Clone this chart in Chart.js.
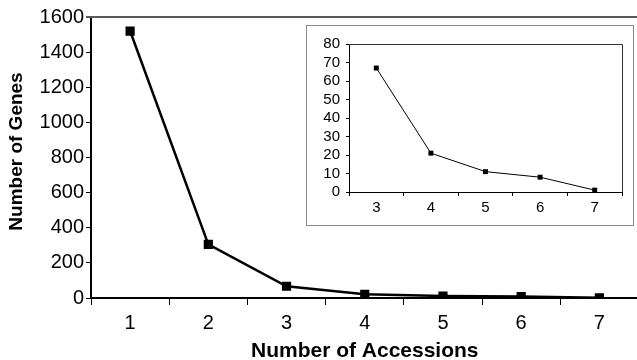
<!DOCTYPE html>
<html>
<head>
<meta charset="utf-8">
<script src="https://cdn.jsdelivr.net/npm/chart.js@4.4.0/dist/chart.umd.min.js"></script>
<style>
    html, body { margin: 0; padding: 0; background: #fff; overflow: hidden; }
    #wrap { position: relative; width: 637px; height: 360px; overflow: hidden; }
    #mainChart { position: absolute; left: 0; top: 0; }
    #insetBox { position: absolute; left: 306px; top: 25px; width: 326px; height: 199px; border: 1px solid #8a8a8a; background: #fff; }
    #insetChart { position: absolute; left: 0; top: 0; }
</style>
</head>
<body>
<div id="wrap">
    <canvas id="mainChart" width="645" height="364"></canvas>
    <div id="insetBox"><canvas id="insetChart" width="326" height="199"></canvas></div>
</div>
<script>
// data
let accessions = ['1', '2', '3', '4', '5', '6', '7'];
let geneCounts = [1520, 305, 67, 21, 11, 8, 1];
let insetAccessions = ['3', '4', '5', '6', '7'];
let insetCounts = [67, 21, 11, 8, 1];

Chart.defaults.font.family = 'Arial, "Liberation Sans", sans-serif';
Chart.defaults.color = '#000';

// line across the top of the main plot area + y axis title
const mainExtras = {
    id: 'mainExtras',
    afterDraw(chart) {
        const a = chart.chartArea;
        const ctx = chart.ctx;
        ctx.save();
        ctx.strokeStyle = '#5a5a5a';
        ctx.lineWidth = 2;
        ctx.beginPath();
        ctx.moveTo(a.left - 5, a.top);
        ctx.lineTo(a.right, a.top);
        ctx.stroke();

        // y title, a bit above the middle like the original
        ctx.translate(17, a.top + (a.bottom - a.top) / 2 - 6);
        ctx.rotate(-Math.PI / 2);
        ctx.fillStyle = '#000';
        ctx.font = 'bold 19px Arial, "Liberation Sans", sans-serif';
        ctx.textAlign = 'center';
        ctx.textBaseline = 'middle';
        ctx.fillText('Number of Genes', 0, 0);
        ctx.restore();
    }
};

// top and right frame for the inset plot
const insetFrame = {
    id: 'insetFrame',
    afterDraw(chart) {
        const a = chart.chartArea;
        const ctx = chart.ctx;
        ctx.save();
        ctx.strokeStyle = '#333';
        ctx.lineWidth = 1;
        ctx.beginPath();
        ctx.moveTo(a.left, a.top + 0.5);
        ctx.lineTo(a.right + 0.5, a.top + 0.5);
        ctx.lineTo(a.right + 0.5, a.bottom);
        ctx.stroke();
        ctx.restore();
    }
};

new Chart(document.getElementById('mainChart').getContext('2d'), {
    type: 'line',
    data: {
        labels: accessions,
        datasets: [{
            data: geneCounts,
            borderColor: '#000',
            backgroundColor: '#000',
            borderWidth: 2.5,
            pointStyle: 'rect',
            pointRadius: 6.5,
            pointBorderWidth: 0,
            tension: 0
        }]
    },
    options: {
        responsive: false,
        animation: false,
        layout: { padding: { top: 17, right: 4, left: 0, bottom: 0 } },
        plugins: { legend: { display: false }, tooltip: { enabled: false } },
        scales: {
            x: {
                offset: true,
                grid: { display: true, drawOnChartArea: false, offset: true, tickLength: 7, color: '#000', lineWidth: 1 },
                border: { color: '#000', width: 2 },
                ticks: { font: { size: 20 }, padding: 6, maxRotation: 0 },
                title: { display: true, text: 'Number of Accessions', font: { size: 21, weight: 'bold' }, padding: { top: 0, bottom: 0 } },
                afterFit: function(scale) { scale.height = 66; }
            },
            y: {
                min: 0,
                max: 1600,
                ticks: { stepSize: 200, autoSkip: false, font: { size: 20 }, padding: 2, callback: v => String(v) },
                grid: { display: true, drawOnChartArea: false, tickLength: 5, color: '#000', lineWidth: 1 },
                border: { color: '#000', width: 2 },
                afterFit: function(scale) { scale.width = 91; }
            }
        }
    },
    plugins: [mainExtras]
});

new Chart(document.getElementById('insetChart').getContext('2d'), {
    type: 'line',
    data: {
        labels: insetAccessions,
        datasets: [{
            data: insetCounts,
            borderColor: '#000',
            backgroundColor: '#000',
            borderWidth: 1,
            pointStyle: 'rect',
            pointRadius: 3.5,
            pointBorderWidth: 0,
            tension: 0
        }]
    },
    options: {
        responsive: false,
        animation: false,
        layout: { padding: { top: 18, right: 11, left: 0, bottom: 0 } },
        plugins: { legend: { display: false }, tooltip: { enabled: false } },
        scales: {
            x: {
                offset: true,
                grid: { display: true, drawOnChartArea: false, offset: true, tickLength: 4, color: '#000', lineWidth: 1 },
                border: { color: '#000', width: 1 },
                ticks: { font: { size: 15 }, padding: 3, maxRotation: 0 },
                afterFit: function(scale) { scale.height = 33; }
            },
            y: {
                min: 0,
                max: 80,
                ticks: { stepSize: 10, autoSkip: false, font: { size: 15 }, padding: 6 },
                grid: { display: true, drawOnChartArea: false, tickLength: 3, color: '#000', lineWidth: 1 },
                border: { color: '#000', width: 1 },
                afterFit: function(scale) { scale.width = 42; }
            }
        }
    },
    plugins: [insetFrame]
});
</script>
</body>
</html>
